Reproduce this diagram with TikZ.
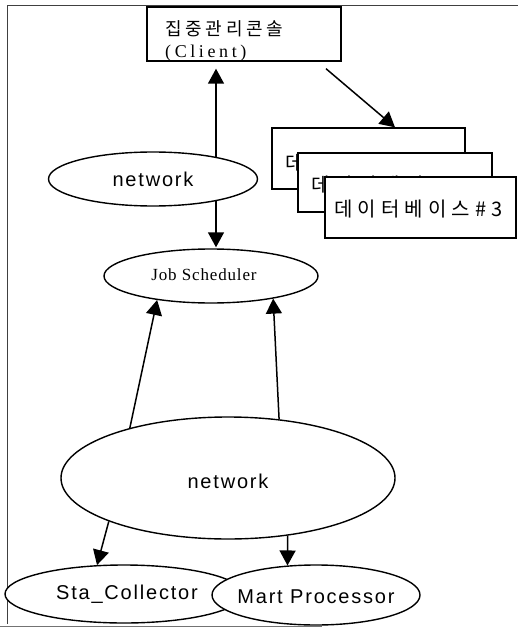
\documentclass[tikz,border=0pt]{standalone}
\usepackage{fontspec}
\setmainfont{Liberation Serif}
\setsansfont{Liberation Sans}
\newfontfamily\kr{Noto Sans CJK KR}
\usetikzlibrary{shapes.geometric,arrows.meta,backgrounds}
\newcommand{\ks}{\kern5.1pt}
\newcommand{\kc}{\kern3.8pt}
\begin{document}
\begin{tikzpicture}[x=1pt,y=-1pt,
  ell/.style={draw,ellipse,fill=white,inner sep=0pt,line width=1.4pt},
  box/.style={draw,rectangle,fill=white,inner sep=0pt,line width=1.4pt},
  tip/.tip={Triangle[length=15pt,width=16pt]},
  arr/.style={line width=1.5pt,-tip},
  darr/.style={line width=1.5pt,tip-tip},
  sanslab/.style={inner sep=0pt,font=\sffamily\fontsize{20}{24}\selectfont\addfontfeatures{LetterSpace=9}},
  krlab/.style={inner sep=0pt,font=\kr\fontsize{20}{24}\selectfont},
  serlab/.style={inner sep=0pt,font=\rmfamily\fontsize{17}{20}\selectfont\addfontfeatures{LetterSpace=5}},
  frame/.style={draw=black!75,line width=0.9pt}]
\useasboundingbox (0,0) rectangle (518,628);
% frame
\draw[frame] (518,5) -- (7,5) -- (7,624);
\draw[draw=black!55,line width=0.9pt] (0,626) -- (322,626);
% client box
\node[box,minimum width=194pt,minimum height=54pt] (client) at (244,34) {};
\node[inner sep=0pt,font=\kr\fontsize{18}{22}\selectfont,anchor=west] (ct1) at (165,29) {집\kc 중\kc 관\kc 리\kc 콘\kc 솔};
\node[inner sep=0pt,anchor=west,font=\rmfamily\fontsize{18}{21}\selectfont\addfontfeatures{LetterSpace=20}] (ct2) at (165,53.5) {(Client)};
% database boxes
\node[box,minimum width=193pt,minimum height=61pt] (db1) at (368.5,158.5) {};
\node[krlab,anchor=west] (dt1) at (285,163) {데\ks 이\ks 터\ks 베\ks 이\ks 스\ks \#\ks 1};
\node[box,minimum width=194pt,minimum height=59pt] (db2) at (395,182.5) {};
\node[krlab,anchor=west] (dt2) at (311,185) {데\ks 이\ks 터\ks 베\ks 이\ks 스\ks \#\ks 2};
\node[box,minimum width=191pt,minimum height=61pt] (db3) at (420.5,207.5) {};
\node[krlab,anchor=west] (dt3) at (334,209.5) {데\ks 이\ks 터\ks 베\ks 이\ks 스\ks \#\ks 3};
% ellipses
\node[ell,minimum width=209pt,minimum height=54pt] (net1) at (153,179) {};
\node[sanslab] (net1t) at (153,179) {network};
\node[ell,minimum width=214pt,minimum height=54pt] (sched) at (211,276) {};
\node[serlab] (schedt) at (204,275) {Job Scheduler};
\node[ell,minimum width=334pt,minimum height=122pt] (net2) at (228,478) {};
\node[sanslab] (net2t) at (228,481) {network};
\node[ell,minimum width=238pt,minimum height=58pt] (sta) at (124,594) {};
\node[sanslab] (stat) at (127,594) {Sta\_Collector};
\node[ell,minimum width=208pt,minimum height=60pt] (mart) at (316,595) {};
\node[sanslab] (martt) at (316,597) {Mart Processor};
% connectors
\begin{pgfonlayer}{background}
\draw[darr] ([shift={(-28,7)}]client.south) -- ([shift={(5,-1)}]sched.north);
\draw[arr] ([shift={(82,7)}]client.south) -- ([shift={(26.5,0)}]db1.north);
\draw[arr] (net2.153) -- (sched.-156);
\draw[arr] (net2.49) -- (sched.-20);
\draw[arr] (net2.-160) -- (sta.133);
\draw[arr] (net2.-44.5) -- (mart.134);
\end{pgfonlayer}
\end{tikzpicture}
\end{document}
